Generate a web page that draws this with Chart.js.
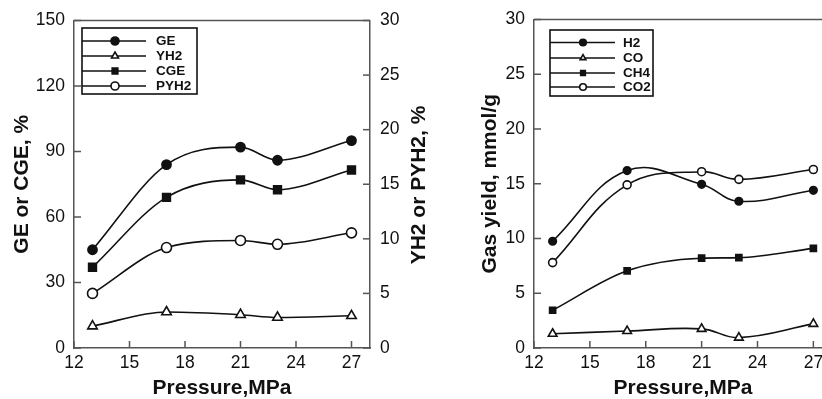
<!DOCTYPE html>
<html>
<head>
<meta charset="utf-8">
<script src="https://cdn.jsdelivr.net/npm/chart.js@4.4.1/dist/chart.umd.min.js"></script>
<style>
  html, body { margin: 0; padding: 0; background: #fff; overflow: hidden; }
  #wrapLeft { position: absolute; left: 0; top: 0; width: 440px; height: 399px; }
  #wrapRight { position: absolute; left: 420px; top: 0; width: 430px; height: 399px; }
</style>
</head>
<body>
<div id="wrapRight"><canvas id="chartRight" width="430" height="399"></canvas></div>
<div id="wrapLeft"><canvas id="chartLeft" width="440" height="399"></canvas></div>
<script>
// dane
const pressure = [13, 17, 21, 23, 27];
const xTicks = [12, 15, 18, 21, 24, 27];

// lewy wykres
const geVals = [45, 84, 92, 86, 95];
const cgeVals = [37, 69, 77, 72.5, 81.5];
const yh2Vals = [2.0, 3.3, 3.05, 2.8, 2.95];
const pyh2Vals = [5.0, 9.2, 9.85, 9.5, 10.55];

// prawy wykres (mmol/g)
const h2Vals = [9.75, 16.2, 14.95, 13.4, 14.4];
const coVals = [1.3, 1.55, 1.75, 0.95, 2.2];
const ch4Vals = [3.45, 7.05, 8.2, 8.25, 9.1];
const co2Vals = [7.8, 14.9, 16.1, 15.4, 16.3];

const FONT = "'Liberation Sans', Arial, Helvetica, sans-serif";
const INK = '#111';
const AXIS = '#555';
const TICK_SIZE = 17.5;
const TITLE_SIZE = 21;

function pts(vals) {
    return pressure.map((p, i) => ({ x: p, y: vals[i] }));
}

function series(label, vals, style, filled, radius, axis, mode) {
    return {
        label: label,
        data: pts(vals),
        yAxisID: axis,
        borderColor: INK,
        borderWidth: 1.6,
        tension: 0.4,
        cubicInterpolationMode: mode || 'default',
        pointStyle: style,
        pointRadius: radius,
        pointBorderWidth: 1.6,
        pointBorderColor: INK,
        pointBackgroundColor: filled ? INK : '#fff',
        fill: false
    };
}

// ticki do środka, ramka u góry, legenda, obrócony tytuł prawej osi
const extrasPlugin = {
    id: 'extras',
    afterDraw(chart, args, opts) {
        const ctx = chart.ctx;
        const a = chart.chartArea;
        ctx.save();
        ctx.strokeStyle = AXIS;
        ctx.lineWidth = 1.5;
        // górna (i prawa) linia ramki
        ctx.beginPath();
        ctx.moveTo(a.left, a.top);
        ctx.lineTo(a.right, a.top);
        if (opts.rightBorder) ctx.lineTo(a.right, a.bottom);
        ctx.stroke();

        const len = 7;
        Object.values(chart.scales).forEach(s => {
            s.ticks.forEach(t => {
                const v = s.getPixelForValue(t.value);
                ctx.beginPath();
                if (s.axis === 'x') {
                    ctx.moveTo(v, a.bottom);
                    ctx.lineTo(v, a.bottom - len);
                } else if (s.position === 'left') {
                    ctx.moveTo(a.left, v);
                    ctx.lineTo(a.left + len, v);
                } else {
                    ctx.moveTo(a.right, v);
                    ctx.lineTo(a.right - len, v);
                }
                ctx.stroke();
            });
        });

        // legenda
        const L = opts.legend;
        ctx.strokeStyle = INK;
        ctx.lineWidth = 1.6;
        ctx.strokeRect(L.x, L.y, L.w, L.h);
        chart.data.datasets.forEach((ds, i) => {
            const y = L.rows[i];
            ctx.strokeStyle = INK;
            ctx.lineWidth = 1.6;
            ctx.beginPath();
            ctx.moveTo(L.x, y);
            ctx.lineTo(L.lineEnd, y);
            ctx.stroke();
            ctx.fillStyle = ds.pointBackgroundColor;
            Chart.helpers.drawPoint(ctx, {
                pointStyle: ds.pointStyle,
                radius: L.radius,
                borderWidth: 1.6,
                rotation: 0
            }, L.marker, y);
            ctx.fillStyle = INK;
            ctx.font = 'bold ' + L.font + 'px ' + FONT;
            ctx.textAlign = 'left';
            ctx.textBaseline = 'middle';
            ctx.fillText(ds.label, L.text, y + 0.5);
        });

        if (opts.rightTitle) {
            const r = opts.rightTitle;
            ctx.translate(r.x, r.y);
            ctx.rotate(-Math.PI / 2);
            ctx.fillStyle = INK;
            ctx.font = 'bold ' + TITLE_SIZE + 'px ' + FONT;
            ctx.textAlign = 'center';
            ctx.textBaseline = 'middle';
            ctx.fillText(r.text, 0, 0);
        }
        ctx.restore();
    }
};

function xScale() {
    return {
        type: 'linear',
        min: 12,
        max: 28,
        afterBuildTicks: s => { s.ticks = xTicks.map(v => ({ value: v })); },
        afterFit: s => { s.height = 51; },
        grid: { display: false, drawTicks: false },
        border: { display: true, color: AXIS, width: 1.5 },
        ticks: { padding: 5, color: INK, font: { family: FONT, size: TICK_SIZE } },
        title: {
            display: true,
            text: 'Pressure,MPa',
            color: INK,
            font: { family: FONT, size: TITLE_SIZE, weight: 'bold' },
            padding: { top: 0, bottom: -2 }
        }
    };
}

function yScale(pos, max, step, width, pad, title, titlePad) {
    return {
        type: 'linear',
        position: pos,
        min: 0,
        max: max,
        afterBuildTicks: s => {
            const t = [];
            for (let v = 0; v <= max; v += step) t.push({ value: v });
            s.ticks = t;
        },
        afterFit: s => { s.width = width; },
        grid: { display: false, drawTicks: false },
        border: { display: true, color: AXIS, width: 1.5 },
        ticks: { padding: pad, color: INK, font: { family: FONT, size: TICK_SIZE } },
        title: {
            display: !!title,
            text: title || '',
            color: INK,
            font: { family: FONT, size: TITLE_SIZE, weight: 'bold' },
            padding: { top: titlePad, bottom: 0 }
        }
    };
}

const leftChart = new Chart(document.getElementById('chartLeft'), {
    type: 'line',
    data: {
        datasets: [
            series('GE', geVals, 'circle', true, 4.6, 'y', 'monotone'),
            series('YH2', yh2Vals, 'triangle', false, 5.5, 'y1', 'monotone'),
            series('CGE', cgeVals, 'rect', true, 5.5, 'y', 'monotone'),
            series('PYH2', pyh2Vals, 'circle', false, 5, 'y1', 'monotone')
        ]
    },
    options: {
        responsive: false,
        animation: false,
        devicePixelRatio: 1,
        layout: { padding: { top: 19, left: 0, right: 20, bottom: 0 } },
        plugins: {
            legend: { display: false },
            tooltip: { enabled: false },
            extras: {
                rightBorder: false,
                legend: { x: 82, y: 28, w: 115, h: 66, rows: [41, 56, 71, 86], lineEnd: 146, marker: 115, text: 156, radius: 4, font: 13.5 },
                rightTitle: { x: 419, y: 185, text: 'YH2 or PYH2, %' }
            }
        },
        scales: {
            x: xScale(),
            y: yScale('left', 150, 30, 74, 9, 'GE or CGE, %', 9.5),
            y1: yScale('right', 30, 5, 50, 10, null, 0)
        }
    },
    plugins: [extrasPlugin]
});

const rightChart = new Chart(document.getElementById('chartRight'), {
    type: 'line',
    data: {
        datasets: [
            series('H2', h2Vals, 'circle', true, 3.8, 'y'),
            series('CO', coVals, 'triangle', false, 5, 'y'),
            series('CH4', ch4Vals, 'rect', true, 4.3, 'y', 'monotone'),
            series('CO2', co2Vals, 'circle', false, 4, 'y')
        ]
    },
    options: {
        responsive: false,
        animation: false,
        devicePixelRatio: 1,
        layout: { padding: { top: 19, left: 0, right: 18, bottom: 0 } },
        plugins: {
            legend: { display: false },
            tooltip: { enabled: false },
            extras: {
                rightBorder: true,
                legend: { x: 130, y: 30, w: 103, h: 66, rows: [42.5, 58, 73, 87], lineEnd: 195, marker: 163, text: 203, radius: 3.3, font: 13.5 }
            }
        },
        scales: {
            x: xScale(),
            y: yScale('left', 30, 5, 114, 9, 'Gas yield, mmol/g', 57.5)
        }
    },
    plugins: [extrasPlugin]
});
</script>
</body>
</html>
